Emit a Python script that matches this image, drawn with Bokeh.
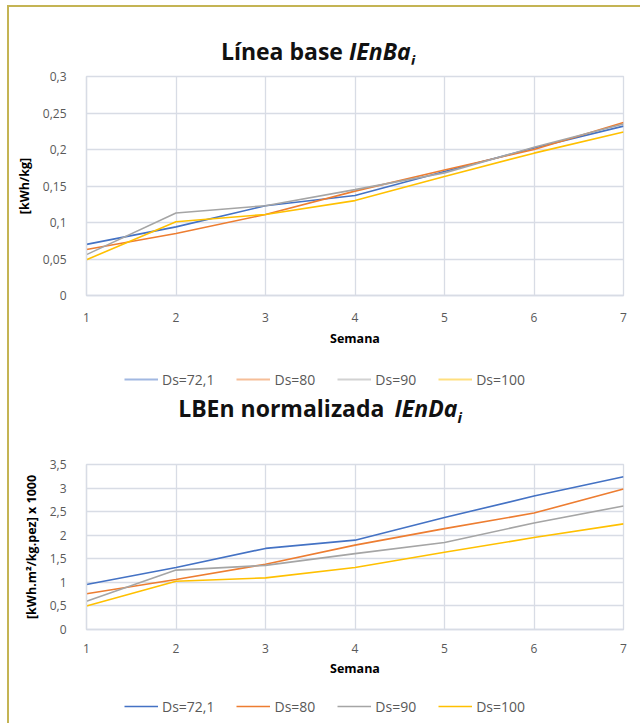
from bokeh.plotting import figure
from bokeh.models import FixedTicker, Legend, LegendItem, Range1d, Div
from bokeh.layouts import column
from bokeh.embed import file_html
from bokeh.resources import INLINE

# ---------------- data ----------------
semanas = [1, 2, 3, 4, 5, 6, 7]
x_labels = ["1", "2", "3", "4", "5", "6", "7"]
series_names = ["Ds=72,1", "Ds=80", "Ds=90", "Ds=100"]

ienba_72 = [0.070, 0.094, 0.123, 0.137, 0.170, 0.202, 0.232]
ienba_80 = [0.063, 0.085, 0.111, 0.143, 0.172, 0.200, 0.237]
ienba_90 = [0.056, 0.113, 0.123, 0.145, 0.168, 0.203, 0.235]
ienba_100 = [0.049, 0.101, 0.111, 0.130, 0.163, 0.195, 0.224]

ienda_72 = [0.955, 1.315, 1.72, 1.895, 2.375, 2.83, 3.24]
ienda_80 = [0.76, 1.06, 1.385, 1.79, 2.14, 2.47, 2.98]
ienda_90 = [0.60, 1.26, 1.36, 1.61, 1.845, 2.26, 2.62]
ienda_100 = [0.50, 1.025, 1.095, 1.315, 1.64, 1.95, 2.24]

y1_ticks = [0, 0.05, 0.1, 0.15, 0.2, 0.25, 0.3]
y1_labels = ["0", "0,05", "0,1", "0,15", "0,2", "0,25", "0,3"]
y2_ticks = [0, 0.5, 1, 1.5, 2, 2.5, 3, 3.5]
y2_labels = ["0", "0,5", "1", "1,5", "2", "2,5", "3", "3,5"]

title1_main, title1_ital, title1_sub = "Línea base", "IEnBa", "i"
title2_main, title2_ital, title2_sub = "LBEn normalizada", "IEnDa", "i"

# ---------------- style ----------------
COLORS = ["#4472C4", "#ED7D31", "#A5A5A5", "#FFC000"]
GRID = "#d8dce5"
FONT = "Open Sans"
TICK_COLOR = "#595959"
BORDER = "#c4b454"
W = 631


def make_title(main, ital, sub, width, height, pad_top, gap):
    html = (f'<div style="width:{width}px; padding-top:{pad_top}px; text-align:center; '
            f'font-family:\'Open Sans\'; font-weight:bold; font-size:23px; line-height:29px; '
            f'color:#111111; white-space:nowrap;">'
            f'{main}<span style="display:inline-block; width:{gap}px"></span>'
            f'<i>{ital}<sub style="font-size:15px; line-height:0;">{sub}</sub></i></div>')
    return Div(text=html, width=width, height=height, margin=0)


def make_fig(height, mb_left, mb_right, mb_top, mb_bottom, yr, yticks, ylabels, ylabel, series,
             x_std, xl_std):
    p = figure(width=W, height=height, output_backend="svg", toolbar_location=None,
               x_range=Range1d(1, 7), y_range=Range1d(*yr),
               min_border_left=mb_left, min_border_right=mb_right,
               min_border_top=mb_top, min_border_bottom=mb_bottom,
               background_fill_color="white", border_fill_color="white", margin=0)
    p.outline_line_color = GRID
    p.outline_line_width = 1.3

    p.xaxis.ticker = FixedTicker(ticks=semanas)
    p.xaxis.major_label_overrides = dict(zip(semanas, x_labels))
    p.yaxis.ticker = FixedTicker(ticks=yticks)
    p.yaxis.major_label_overrides = dict(zip(yticks, ylabels))
    p.xgrid.ticker = FixedTicker(ticks=semanas)
    p.ygrid.ticker = FixedTicker(ticks=yticks)
    for g in (p.xgrid, p.ygrid):
        g.grid_line_color = GRID
        g.grid_line_width = 1.3
    for ax in (p.xaxis, p.yaxis):
        ax.axis_line_color = GRID
        ax.axis_line_width = 1.3
        ax.major_tick_line_color = None
        ax.minor_tick_line_color = None
        ax.major_label_text_font = FONT
        ax.major_label_text_font_size = "12px"
        ax.major_label_text_color = TICK_COLOR
        ax.axis_label_text_font = FONT
        ax.axis_label_text_font_style = "bold"
        ax.axis_label_text_font_size = "12.5px"
        ax.axis_label_text_color = "#000000"
    p.xaxis.axis_label = "Semana"
    p.xaxis.major_label_standoff = x_std
    p.xaxis.axis_label_standoff = xl_std
    p.yaxis.axis_label = ylabel
    p.yaxis.major_label_standoff = 14
    p.yaxis.axis_label_standoff = 7

    for vals, c in zip(series, COLORS):
        p.line(semanas, vals, line_color=c, line_width=1.6)
    return p


def make_legend_fig(height, loc, alpha, lw, series):
    # The series are re-plotted outside the visible range: only their legend samples show.
    p = figure(width=W, height=height, output_backend="svg", toolbar_location=None,
               x_range=Range1d(-10, -9), y_range=Range1d(-10, -9),
               x_axis_location=None, y_axis_location=None,
               min_border=0, margin=0, outline_line_color=None,
               background_fill_color="white", border_fill_color="white")
    p.grid.visible = False
    rends = [p.line(semanas, vals, line_color=c, line_width=lw, line_alpha=alpha)
             for vals, c in zip(series, COLORS)]
    legend = Legend(items=[LegendItem(label=n, renderers=[r]) for n, r in zip(series_names, rends)],
                    orientation="horizontal", location=loc,
                    glyph_width=34, glyph_height=20, label_height=20,
                    label_standoff=4, spacing=22, padding=0, margin=0,
                    border_line_color=None, background_fill_alpha=0,
                    label_text_font=FONT, label_text_font_size="14px",
                    label_text_color=TICK_COLOR)
    p.add_layout(legend)
    return p


d1 = make_title(title1_main, title1_ital, title1_sub, 618, 57, 30, 6)
p1 = make_fig(291, 77, 16, 12, 60, (0, 0.3), y1_ticks, y1_labels, "[kWh/kg]",
              [ienba_72, ienba_80, ienba_90, ienba_100], 11, 5)
l1 = make_legend_fig(37, (38, 3), 0.5, 2.2, [ienba_72, ienba_80, ienba_90, ienba_100])
d2 = make_title(title2_main, title2_ital, title2_sub, 622, 60, 2, 10)
p2 = make_fig(231, 68, 17, 12, 54, (0, 3.5), y2_ticks, y2_labels, "[kWh.m²/kg.pez] x 1000",
              [ienda_72, ienda_80, ienda_90, ienda_100], 8, 4)
l2 = make_legend_fig(40, (38, 7), 1.0, 1.5, [ienda_72, ienda_80, ienda_90, ienda_100])

layout = column(d1, p1, l1, d2, p2, l2, margin=(5, 0, 0, 7), spacing=0,
                styles={"border-top": f"2px solid {BORDER}", "border-left": f"2px solid {BORDER}"})

open("out.html", "w").write(file_html(layout, INLINE))
